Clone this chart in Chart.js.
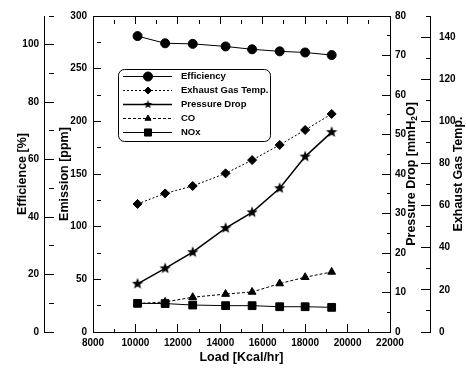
<!DOCTYPE html>
<html>
<head>
<meta charset="utf-8">
<script src="https://cdn.jsdelivr.net/npm/chart.js@4.4.1/dist/chart.umd.min.js"></script>
<style>
  html, body { margin: 0; padding: 0; background: #fff; }
</style>
</head>
<body>
<canvas id="loadChart" width="466" height="372"></canvas>
<script>
// values
const loads = [10100, 11400, 12700, 14250, 15500, 16800, 18000, 19250];
const efficiency = [103, 100.5, 100.3, 99.4, 98.4, 97.7, 97.3, 96.4];     // %
const exhaustTemp = [60.8, 65.8, 69.3, 75.3, 81.6, 88.8, 95.9, 103.5];   // exhaust gas temp.
const pressureDrop = [12.2, 16.1, 20.2, 26.3, 30.3, 36.4, 44.4, 50.6];   // mmH2O
const coPpm = [27, 28.5, 33, 36, 38, 46, 52, 57];
const noxPpm = [27.2, 27, 25.6, 25, 25, 24, 24, 23.4];

const black = '#000';
const fontFamily = "'Liberation Sans', Arial, sans-serif";
Chart.defaults.font.family = fontFamily;
Chart.defaults.font.weight = 'bold';
Chart.defaults.font.size = 10;
Chart.defaults.color = black;

const xy = ys => loads.map((x, i) => ({ x: x, y: ys[i] }));

// filled five point star used as point style
function makeStar(r) {
  const c = document.createElement('canvas');
  const s = Math.ceil(r * 2) + 2;
  c.width = s; c.height = s;
  const g = c.getContext('2d');
  g.fillStyle = black;
  g.beginPath();
  for (let i = 0; i < 10; i++) {
    const a = -Math.PI / 2 + i * Math.PI / 5;
    const rr = i % 2 ? r * 0.42 : r;
    g.lineTo(s / 2 + rr * Math.cos(a), s / 2 + rr * Math.sin(a));
  }
  g.closePath();
  g.fill();
  return c;
}
const star = makeStar(6);
const smallStar = makeStar(4.5);

// short minor ticks: dash the tick mark so only its first part shows
const minorDash = (major, len) => ctx => (ctx.tick && ctx.tick.value % major !== 0) ? [len, 100] : [];
const labelEvery = major => v => (v % major === 0 ? String(v) : '');
// fixed widths so the plot sits where it does in the original;
// the tick padding would otherwise push the plot top down
const fixWidth = w => s => { s.width = w; s.paddingTop = 6; s.paddingBottom = 6; };

const titleFont = { size: 12.5, weight: 'bold' };

// legend box inside the plot
const legendRadius = [4.5, 3.5, 0, 3.5, 5];
const boxLegend = {
  id: 'boxLegend',
  afterDatasetsDraw(chart) {
    const ctx = chart.ctx;
    ctx.save();
    ctx.fillStyle = '#fff';
    ctx.strokeStyle = black;
    ctx.lineWidth = 1;
    ctx.beginPath();
    ctx.roundRect(118.5, 69.5, 152, 72, 6);
    ctx.fill();
    ctx.stroke();
    ctx.fillStyle = black;
    ctx.font = 'bold 9.5px ' + fontFamily;
    ctx.textBaseline = 'middle';
    chart.data.datasets.forEach((ds, i) => {
      const y = 76.5 + i * 14;
      ctx.setLineDash(ds.borderDash || []);
      ctx.lineWidth = ds.borderWidth;
      ctx.beginPath();
      ctx.moveTo(123, y);
      ctx.lineTo(172, y);
      ctx.stroke();
      ctx.setLineDash([]);
      ctx.lineWidth = 1;
      const style = ds.pointStyle === star ? smallStar : ds.pointStyle;
      Chart.helpers.drawPoint(ctx, { pointStyle: style, radius: legendRadius[i], rotation: 0, borderWidth: 1 }, 148, y);
      ctx.fillText(ds.label, 181, y);
    });
    ctx.restore();
  }
};

// right hand titles read bottom to top, like the left ones
const sideTitles = {
  id: 'sideTitles',
  afterDraw(chart) {
    const ctx = chart.ctx;
    const area = chart.chartArea;
    const cy = (area.top + area.bottom) / 2;
    ctx.save();
    ctx.fillStyle = black;
    ctx.textBaseline = 'middle';

    // Pressure Drop [mmH2O] with subscript 2
    const parts = [['Pressure Drop [mmH', 12.5, 0], ['2', 8.5, 3], ['O]', 12.5, 0]];
    let total = 0;
    parts.forEach(p => { ctx.font = 'bold ' + p[1] + 'px ' + fontFamily; total += ctx.measureText(p[0]).width; });
    ctx.save();
    ctx.translate(chart.scales.yPr.left + 22, cy);
    ctx.rotate(-Math.PI / 2);
    ctx.textAlign = 'left';
    let x = -total / 2;
    parts.forEach(p => {
      ctx.font = 'bold ' + p[1] + 'px ' + fontFamily;
      ctx.fillText(p[0], x, p[2]);
      x += ctx.measureText(p[0]).width;
    });
    ctx.restore();

    ctx.save();
    ctx.translate(chart.scales.yEx.right - 7, cy);
    ctx.rotate(-Math.PI / 2);
    ctx.textAlign = 'center';
    ctx.font = 'bold 12.5px ' + fontFamily;
    ctx.fillText('Exhaust Gas Temp.', 0, 0);
    ctx.restore();

    ctx.restore();
  }
};

const ctx = document.getElementById('loadChart').getContext('2d');
const loadChart = new Chart(ctx, {
  type: 'line',
  data: {
    datasets: [{
      label: 'Efficiency',
      data: xy(efficiency),
      yAxisID: 'yEff',
      borderColor: black,
      borderWidth: 1,
      pointStyle: 'circle',
      pointRadius: 4.5,
      pointBackgroundColor: black,
      pointBorderColor: black
    }, {
      label: 'Exhaust Gas Temp.',
      data: xy(exhaustTemp),
      yAxisID: 'yEx',
      borderColor: black,
      borderWidth: 1,
      borderDash: [2, 2],
      pointStyle: 'rectRot',
      pointRadius: 4.5,
      pointBackgroundColor: black,
      pointBorderColor: black
    }, {
      label: 'Pressure Drop',
      data: xy(pressureDrop),
      yAxisID: 'yPr',
      borderColor: black,
      borderWidth: 1.5,
      pointStyle: star,
      pointRadius: 6
    }, {
      label: 'CO',
      data: xy(coPpm),
      yAxisID: 'yEm',
      borderColor: black,
      borderWidth: 1,
      borderDash: [3, 2],
      pointStyle: 'triangle',
      pointRadius: 4.5,
      pointBackgroundColor: black,
      pointBorderColor: black
    }, {
      label: 'NOx',
      data: xy(noxPpm),
      yAxisID: 'yEm',
      borderColor: black,
      borderWidth: 1,
      pointStyle: 'rect',
      pointRadius: 5.5,
      pointBackgroundColor: black,
      pointBorderColor: black
    }]
  },
  options: {
    responsive: false,
    animation: false,
    layout: { padding: 0 },
    plugins: {
      legend: { display: false },
      tooltip: { enabled: false }
    },
    scales: {
      x: {
        type: 'linear',
        position: 'bottom',
        min: 8000,
        max: 22000,
        border: { color: black, width: 1 },
        grid: { drawOnChartArea: false, color: black, tickLength: -8, tickBorderDash: minorDash(2000, 4) },
        ticks: { stepSize: 1000, autoSkip: false, maxRotation: 0, minRotation: 0, padding: 13, callback: labelEvery(2000) },
        title: { display: true, text: 'Load [Kcal/hr]', font: titleFont, padding: { top: 0, bottom: 6.5 } },
        afterFit: s => { s.height = 40; }
      },
      xTop: {
        type: 'linear',
        position: 'top',
        min: 8000,
        max: 22000,
        border: { color: black, width: 1 },
        grid: { drawOnChartArea: false, color: black, tickLength: -8, tickBorderDash: minorDash(2000, 4) },
        ticks: { display: false, stepSize: 1000, autoSkip: false, maxRotation: 0 },
        afterFit: s => { s.height = 16; }
      },
      yEff: {
        type: 'linear',
        position: 'left',
        weight: 1,
        min: 0,
        max: 110,
        border: { color: black, width: 1 },
        grid: { drawOnChartArea: false, color: black, tickLength: -10, tickBorderDash: minorDash(20, 5) },
        ticks: { stepSize: 10, autoSkip: false, padding: 15, callback: labelEvery(20) },
        title: { display: true, text: 'Efficience [%]', font: titleFont, padding: { top: 15.5, bottom: 0 } },
        afterFit: fixWidth(44)
      },
      yEm: {
        type: 'linear',
        position: 'left',
        weight: 0,
        min: 0,
        max: 300,
        border: { color: black, width: 1 },
        grid: { drawOnChartArea: false, color: black, tickLength: -8, tickBorderDash: minorDash(50, 4) },
        ticks: { stepSize: 25, autoSkip: false, padding: 14, callback: labelEvery(50) },
        title: { display: true, text: 'Emission [ppm]', font: titleFont, padding: { top: 13.5, bottom: 0 } },
        afterFit: fixWidth(49)
      },
      yPr: {
        type: 'linear',
        position: 'right',
        weight: 0,
        min: 0,
        max: 80,
        border: { color: black, width: 1 },
        grid: { drawOnChartArea: false, color: black, tickLength: -8, tickBorderDash: minorDash(10, 4) },
        ticks: { stepSize: 5, autoSkip: false, padding: 13, callback: labelEvery(10) },
        afterFit: fixWidth(40)
      },
      yEx: {
        type: 'linear',
        position: 'right',
        weight: 1,
        min: 0,
        max: 150,
        border: { color: black, width: 1 },
        grid: { drawOnChartArea: false, color: black, tickLength: -9, tickBorderDash: minorDash(20, 5) },
        ticks: { stepSize: 10, autoSkip: false, padding: 18, callback: labelEvery(20) },
        afterFit: fixWidth(36)
      }
    }
  },
  plugins: [boxLegend, sideTitles]
});
</script>
</body>
</html>
